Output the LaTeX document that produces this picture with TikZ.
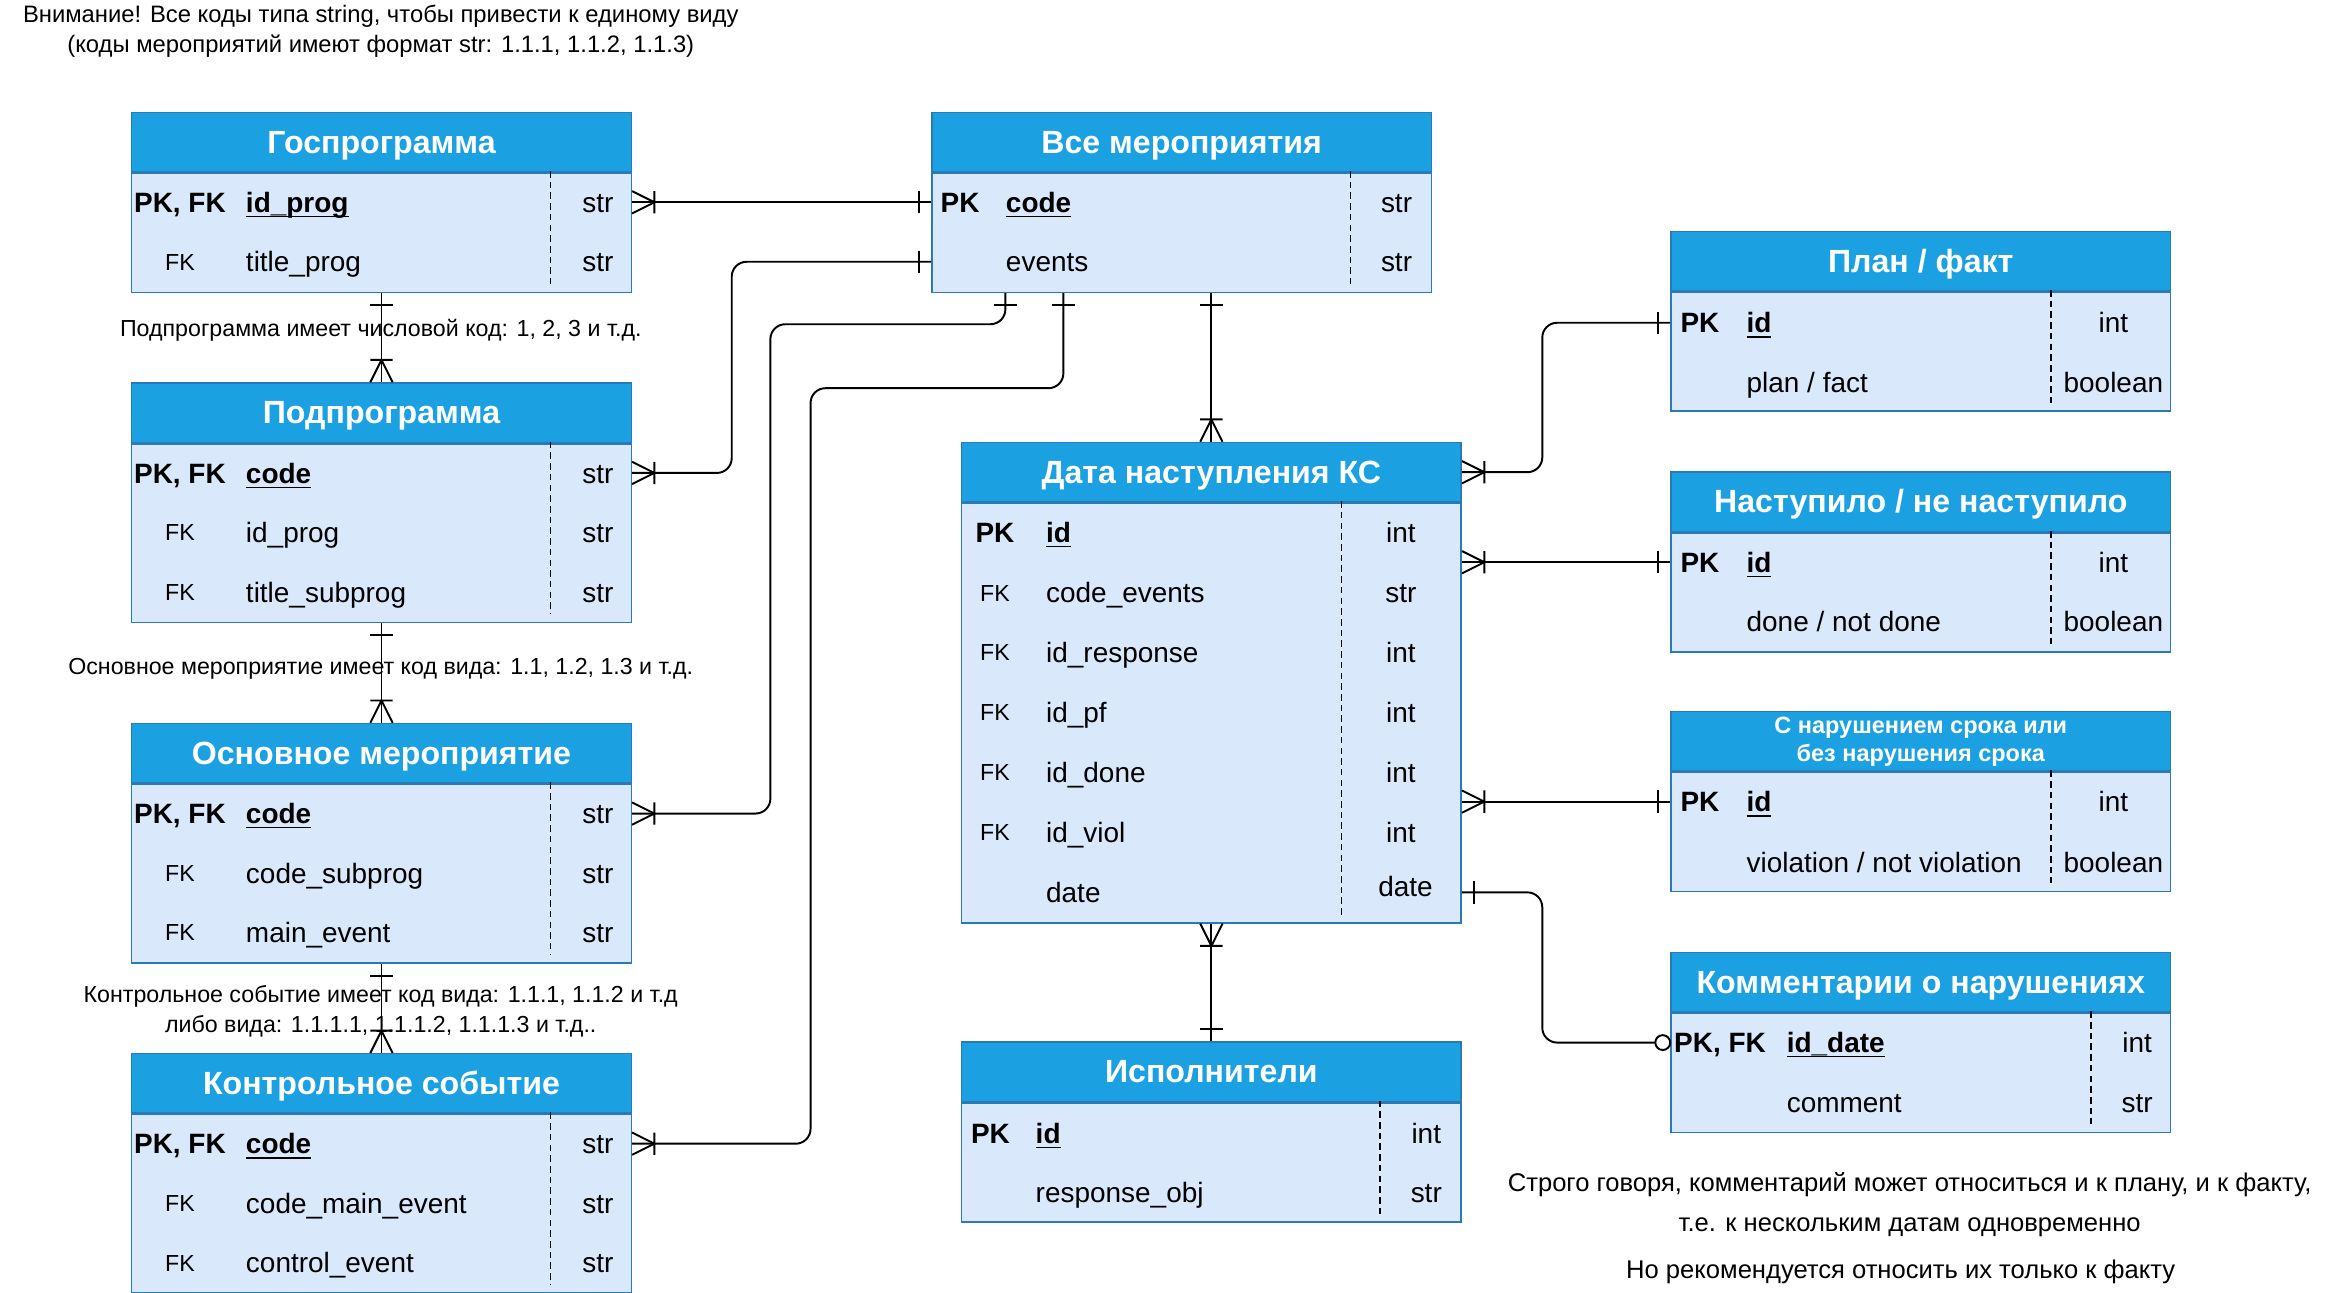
\documentclass[tikz,border=0pt]{standalone}
\usepackage{fontspec}
\setmainfont{Liberation Sans}
\usepackage{tikz}
\usetikzlibrary{positioning,calc}

\definecolor{erhead}{HTML}{1BA1E2}
\definecolor{erline}{HTML}{2A7AB8}
\definecolor{erbody}{HTML}{DAE8FC}

\newcommand{\pkline}[1]{\underline{\smash{#1}}}

% ER ends
\pgfdeclarearrow{
  name = crowsfoot,
  setup code = {
    \pgfarrowssettipend{0pt}
    \pgfarrowssetlineend{0pt}
    \pgfarrowssetbackend{-7.5pt}
  },
  drawing code = {
    \pgfsetcornersarced{\pgfpointorigin}
    \pgfsetdash{}{0pt}
    \pgfsetlinewidth{0.65pt}
    \pgfpathmoveto{\pgfqpoint{0pt}{3.75pt}}
    \pgfpathlineto{\pgfqpoint{-7.5pt}{0pt}}
    \pgfpathlineto{\pgfqpoint{0pt}{-3.75pt}}
    \pgfpathmoveto{\pgfqpoint{-7.5pt}{3.75pt}}
    \pgfpathlineto{\pgfqpoint{-7.5pt}{-3.75pt}}
    \pgfusepathqstroke
  }
}
\pgfdeclarearrow{
  name = onebar,
  setup code = {
    \pgfarrowssettipend{0pt}
    \pgfarrowssetlineend{0pt}
    \pgfarrowssetbackend{-4pt}
  },
  drawing code = {
    \pgfsetcornersarced{\pgfpointorigin}
    \pgfsetdash{}{0pt}
    \pgfsetlinewidth{0.65pt}
    \pgfpathmoveto{\pgfqpoint{-4pt}{3.75pt}}
    \pgfpathlineto{\pgfqpoint{-4pt}{-3.75pt}}
    \pgfusepathqstroke
  }
}
\pgfdeclarearrow{
  name = zerocircle,
  setup code = {
    \pgfarrowssettipend{0pt}
    \pgfarrowssetlineend{-5pt}
    \pgfarrowssetbackend{-5pt}
  },
  drawing code = {
    \pgfsetdash{}{0pt}
    \pgfsetlinewidth{0.65pt}
    \pgfsetfillcolor{white}
    \pgfpathcircle{\pgfqpoint{-2.5pt}{0pt}}{2.5pt}
    \pgfusepathqfillstroke
  }
}

\begin{document}
\begin{tikzpicture}[x=0.5pt, y=-0.5pt,
    head/.style={rectangle, draw=erline, line width=0.5pt, fill=erhead, text=white, font=\bfseries\fontsize{10.8}{12}\selectfont, text height=7.4pt, text depth=0pt, minimum width=168pt, minimum height=20pt, inner sep=0pt, anchor=north west},
    body/.style={rectangle, draw=erline, line width=0.5pt, fill=erbody, minimum width=168pt, inner sep=0pt, below=0pt of #1},
    pkey/.style={font=\bfseries\fontsize{9.4}{11}\selectfont, text height=6.8pt, text depth=0pt, inner sep=0pt},
    fkey/.style={font=\fontsize{7.8}{9}\selectfont, text height=5.6pt, text depth=0pt, inner sep=0pt},
    pname/.style={font=\bfseries\fontsize{9.4}{11}\selectfont, text height=6.8pt, text depth=0pt, inner sep=0pt, anchor=west},
    fname/.style={font=\fontsize{9.4}{11}\selectfont, text height=6.8pt, text depth=0pt, inner sep=0pt, anchor=west},
    ftype/.style={font=\fontsize{9.4}{11}\selectfont, text height=6.8pt, text depth=0pt, inner sep=0pt},
    divider/.style={line width=0.5pt, dash pattern=on 2.2pt off 1.4pt},
    link/.style={line width=0.65pt, rounded corners=5pt},
    note/.style={font=\fontsize{7.8}{10}\selectfont, align=center, inner sep=0pt}]

    \useasboundingbox (0,0) rectangle (1568,869);

        % Tables
    \node (gp) [head] at (88,75) {Госпрограмма};
    \node (gpb) [body=gp, minimum height=40pt] {};
    \draw [divider] (370,115) -- (370,191);
    \node (gp-k1) [pkey] at (121,136) {PK, FK};
    \node (gp-n1) [pname] at (165,136) {\pkline{id\_prog}};
    \node (gp-t1) [ftype] at (402,136) {str};
    \node (gp-k2) [fkey] at (121,176) {FK};
    \node (gp-n2) [fname] at (165,176) {title\_prog};
    \node (gp-t2) [ftype] at (402,176) {str};

    \node (sp) [head] at (88,257) {Подпрограмма};
    \node (spb) [body=sp, minimum height=60pt] {};
    \draw [divider] (370,297) -- (370,413);
    \node (sp-k1) [pkey] at (121,318) {PK, FK};
    \node (sp-n1) [pname] at (165,318) {\pkline{code}};
    \node (sp-t1) [ftype] at (402,318) {str};
    \node (sp-k2) [fkey] at (121,358) {FK};
    \node (sp-n2) [fname] at (165,358) {id\_prog};
    \node (sp-t2) [ftype] at (402,358) {str};
    \node (sp-k3) [fkey] at (121,398) {FK};
    \node (sp-n3) [fname] at (165,398) {title\_subprog};
    \node (sp-t3) [ftype] at (402,398) {str};

    \node (me) [head] at (88,486) {Основное мероприятие};
    \node (meb) [body=me, minimum height=60pt] {};
    \draw [divider] (370,526) -- (370,642);
    \node (me-k1) [pkey] at (121,547) {PK, FK};
    \node (me-n1) [pname] at (165,547) {\pkline{code}};
    \node (me-t1) [ftype] at (402,547) {str};
    \node (me-k2) [fkey] at (121,587) {FK};
    \node (me-n2) [fname] at (165,587) {code\_subprog};
    \node (me-t2) [ftype] at (402,587) {str};
    \node (me-k3) [fkey] at (121,627) {FK};
    \node (me-n3) [fname] at (165,627) {main\_event};
    \node (me-t3) [ftype] at (402,627) {str};

    \node (ce) [head] at (88,708) {Контрольное событие};
    \node (ceb) [body=ce, minimum height=60pt] {};
    \draw [divider] (370,748) -- (370,864);
    \node (ce-k1) [pkey] at (121,769) {PK, FK};
    \node (ce-n1) [pname] at (165,769) {\pkline{code}};
    \node (ce-t1) [ftype] at (402,769) {str};
    \node (ce-k2) [fkey] at (121,809) {FK};
    \node (ce-n2) [fname] at (165,809) {code\_main\_event};
    \node (ce-t2) [ftype] at (402,809) {str};
    \node (ce-k3) [fkey] at (121,849) {FK};
    \node (ce-n3) [fname] at (165,849) {control\_event};
    \node (ce-t3) [ftype] at (402,849) {str};

    \node (ev) [head] at (626,75) {Все мероприятия};
    \node (evb) [body=ev, minimum height=40pt] {};
    \draw [divider] (908,115) -- (908,191);
    \node (ev-k1) [pkey] at (645.5,136) {PK};
    \node (ev-n1) [pname] at (676,136) {\pkline{code}};
    \node (ev-t1) [ftype] at (939,136) {str};
    \node (ev-n2) [fname] at (676,176) {events};
    \node (ev-t2) [ftype] at (939,176) {str};

    \node (dk) [head] at (646,297) {Дата наступления КС};
    \node (dkb) [body=dk, minimum height=141pt] {};
    \draw [divider] (902,337) -- (902,615);
    \node (dk-k1) [pkey] at (669,358) {PK};
    \node (dk-n1) [pname] at (703,358) {\pkline{id}};
    \node (dk-t1) [ftype] at (942,358) {int};
    \node (dk-k2) [fkey] at (669,398.5) {FK};
    \node (dk-n2) [fname] at (703,398.5) {code\_events};
    \node (dk-t2) [ftype] at (942,398.5) {str};
    \node (dk-k3) [fkey] at (669,438.8) {FK};
    \node (dk-n3) [fname] at (703,438.8) {id\_response};
    \node (dk-t3) [ftype] at (942,438.8) {int};
    \node (dk-k4) [fkey] at (669,479) {FK};
    \node (dk-n4) [fname] at (703,479) {id\_pf};
    \node (dk-t4) [ftype] at (942,479) {int};
    \node (dk-k5) [fkey] at (669,519.4) {FK};
    \node (dk-n5) [fname] at (703,519.4) {id\_done};
    \node (dk-t5) [ftype] at (942,519.4) {int};
    \node (dk-k6) [fkey] at (669,559.7) {FK};
    \node (dk-n6) [fname] at (703,559.7) {id\_viol};
    \node (dk-t6) [ftype] at (942,559.7) {int};
    \node (dk-n7) [fname] at (703,600) {date};
    \node (dk-t7) [ftype] at (945,596) {date};

    \node (ex) [head] at (646,700) {Исполнители};
    \node (exb) [body=ex, minimum height=40pt] {};
    \draw [divider] (928,740) -- (928,816);
    \node (ex-k1) [pkey] at (666,762) {PK};
    \node (ex-n1) [pname] at (696,762) {\pkline{id}};
    \node (ex-t1) [ftype] at (959,762) {int};
    \node (ex-n2) [fname] at (696,802) {response\_obj};
    \node (ex-t2) [ftype] at (959,802) {str};

    \node (pf) [head] at (1123,155) {План / факт};
    \node (pfb) [body=pf, minimum height=40pt] {};
    \draw [divider] (1379,195) -- (1379,271);
    \node (pf-k1) [pkey] at (1143,217) {PK};
    \node (pf-n1) [pname] at (1174,217) {\pkline{id}};
    \node (pf-t1) [ftype] at (1421,217) {int};
    \node (pf-n2) [fname] at (1174,257) {plan / fact};
    \node (pf-t2) [ftype] at (1421,257) {boolean};

    \node (dn) [head] at (1123,317) {Наступило / не наступило};
    \node (dnb) [body=dn, minimum height=40pt] {};
    \draw [divider] (1379,357) -- (1379,433);
    \node (dn-k1) [pkey] at (1143,378) {PK};
    \node (dn-n1) [pname] at (1174,378) {\pkline{id}};
    \node (dn-t1) [ftype] at (1421,378) {int};
    \node (dn-n2) [fname] at (1174,418) {done / not done};
    \node (dn-t2) [ftype] at (1421,418) {boolean};

    \node (vi) [head, font=\bfseries\fontsize{7.9}{9.5}\selectfont, text height=, text depth=, align=center] at (1123,478) {С нарушением срока или\\без нарушения срока};
    \node (vib) [body=vi, minimum height=40pt] {};
    \draw [divider] (1379,518) -- (1379,594);
    \node (vi-k1) [pkey] at (1143,539) {PK};
    \node (vi-n1) [pname] at (1174,539) {\pkline{id}};
    \node (vi-t1) [ftype] at (1421,539) {int};
    \node (vi-n2) [fname] at (1174,580) {violation / not violation};
    \node (vi-t2) [ftype] at (1421,580) {boolean};

    \node (cm) [head] at (1123,640) {Комментарии о нарушениях};
    \node (cmb) [body=cm, minimum height=40pt] {};
    \draw [divider] (1406,680) -- (1406,756);
    \node (cm-k1) [pkey] at (1156.5,701) {PK, FK};
    \node (cm-n1) [pname] at (1201,701) {\pkline{id\_date}};
    \node (cm-t1) [ftype] at (1437,701) {int};
    \node (cm-n2) [fname] at (1201,741) {comment};
    \node (cm-t2) [ftype] at (1437,741) {str};

        % Notes
    \node (note-top) [note, font=\fontsize{8}{10}\selectfont] at (256,21) {Внимание! Все коды типа string, чтобы привести к единому виду\\(коды мероприятий имеют формат str: 1.1.1, 1.1.2, 1.1.3)};
    \node (note-sp) [note] at (256,222) {Подпрограмма имеет числовой код: 1, 2, 3 и т.д.};
    \node (note-me) [note] at (256,450) {Основное мероприятие имеет код вида: 1.1, 1.2, 1.3 и т.д.};
    \node (note-ce) [note] at (256,680) {Контрольное событие имеет код вида: 1.1.1, 1.1.2 и т.д\\либо вида: 1.1.1.1, 1.1.1.2, 1.1.1.3 и т.д..};
    \node (note-cm) [note, font=\fontsize{8.6}{13.5}\selectfont] at (1284,810) {Строго говоря, комментарий может относиться и к плану, и к факту,\\т.е. к нескольким датам одновременно};
    \node (note-fact) [note, font=\fontsize{8.6}{10}\selectfont] at (1278,855) {Но рекомендуется относить их только к факту};

        % Links
    \coordinate (bend-sp) at (492,176);
    \coordinate (bend-me1) at (518,218);
    \coordinate (bend-me2) at (676,218);
    \coordinate (bend-ce1) at (545,261);
    \coordinate (bend-ce2) at (715,261);
    \coordinate (bend-pf) at (1037,217);
    \coordinate (bend-cm) at (1037,701);

    \draw [link, crowsfoot-onebar] (gpb.east |- gp-n1) -- (evb.west |- ev-n1);
    \draw [link, onebar-crowsfoot] (gpb.south) -- (sp.north);
    \draw [link, onebar-crowsfoot] (spb.south) -- (me.north);
    \draw [link, onebar-crowsfoot] (meb.south) -- (ce.north);
    \draw [link, crowsfoot-onebar] (spb.east |- sp-n1) -| (bend-sp) -- (evb.west |- ev-n2);
    \draw [link, crowsfoot-onebar] (meb.east |- me-n1) -| (bend-me1) -- (bend-me2) -- (bend-me2 |- evb.south);
    \draw [link, crowsfoot-onebar] (ceb.east |- ce-n1) -| (bend-ce1) -- (bend-ce2) -- (bend-ce2 |- evb.south);
    \draw [link, onebar-crowsfoot] (evb.south -| dk.north) -- (dk.north);
    \draw [link, crowsfoot-onebar] (dk.east) -| (bend-pf) -- (pfb.west |- pf-n1);
    \draw [link, crowsfoot-onebar] (dkb.east |- dn-n1) -- (dnb.west |- dn-n1);
    \draw [link, crowsfoot-onebar] (dkb.east |- vi-n1) -- (vib.west |- vi-n1);
    \draw [link, onebar-zerocircle] (dkb.east |- dk-n7) -| (bend-cm) -- (cmb.west |- cm-n1);
    \draw [link, crowsfoot-onebar] (dkb.south) -- (ex.north);

\end{tikzpicture}
\end{document}
